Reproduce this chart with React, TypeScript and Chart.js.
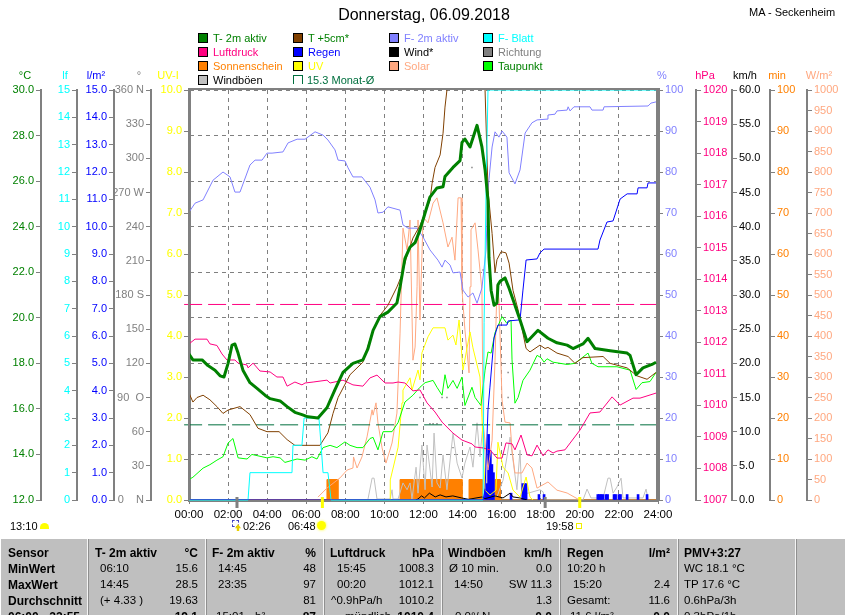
import React, { useEffect, useRef } from "react";
import { Chart, registerables } from "chart.js";

Chart.register(...registerables);

type P = [number, number];

const GREEN = "#008000", BROWN = "#804000", VIOLET = "#8080ff", CYAN = "#00ffff", PINK = "#ff0080";
const BLUE = "#0000ff", GRAY = "#808080", ORANGE = "#ff8000", YELLOW = "#ffff00", SALMON = "#ffa880";
const LIME = "#00ff00", SILVER = "#c0c0c0", MONTH = "#006f3e";
const FONT = '"Liberation Sans", Arial, sans-serif';

const degLabels: Record<number, string> = { 360: "360 N", 270: "270 W", 180: "180 S", 90: "90  O", 0: "0    N" };

const t2m: P[] = [[0,18.4],[.2,18.15],[.67,18.15],[.97,17.9],[1.33,17.7],[1.59,17.45],[1.79,17.4],[2,18],[2.2,18.8],[2.35,18.85],[2.51,18.45],[2.76,17.7],[3.12,17.15],[3.48,16.9],[3.89,16.6],[4.15,16.45],[4.66,16.35],[5.02,16.1],[5.42,15.85],[5.78,15.75],[6.09,15.65],[6.6,15.6],[7.06,16.05],[7.47,16.85],[7.88,17.6],[8.39,18],[8.9,18.15],[9.16,18.65],[9.42,19.45],[9.77,20.05],[10.18,20.25],[10.64,20.65],[10.8,21.35],[11.05,22.6],[11.31,23.1],[11.57,23.3],[11.82,23.85],[12.08,24.6],[12.33,25.3],[12.69,25.7],[13,25.75],[13.1,26.2],[13.51,26.6],[13.87,26.9],[13.97,27.7],[14.12,27.85],[14.38,27.5],[14.74,28.45],[14.99,27.5],[15.15,26.5],[15.3,25.15],[15.35,22.65],[15.46,21.2],[15.61,20.55],[15.76,20.65],[15.81,21.45],[15.92,21.6],[16.17,21.75],[16.38,21.3],[16.94,19.9],[17.3,18.95],[17.86,19.45],[18.37,19.1],[18.83,18.9],[19.35,18.8],[19.65,18.65],[20.16,18.85],[20.42,19.1],[20.78,18.65],[21.55,18.55],[22.42,18.45],[22.57,18.35],[22.88,17.5],[23.23,17.8],[23.69,17.95],[23.9,18.05]];

const t5cm: P[] = [[0,16.7],[.2,16.3],[.41,16.5],[.72,16.6],[1.07,16.4],[1.43,16.1],[1.74,15.8],[2,15.95],[2.61,16.1],[3.12,15.75],[3.53,15.15],[3.99,15],[4.61,15],[5.02,14.65],[5.42,14.4],[6.7,14.4],[7.11,14.95],[7.37,15.8],[7.63,16.5],[8.24,17.5],[8.9,18.05],[9.37,19.35],[9.77,20.1],[10.18,20.55],[10.64,21.35],[10.9,21.9],[11.16,22.75],[11.46,23.5],[11.82,24.05],[12.33,25.15],[12.44,25.9],[12.59,26.6],[12.85,27.15],[13,28.1],[13.1,29.25],[13.2,30],[13.3,30.9],[13.9,33],[14.8,33],[15.15,30],[15.2,28.55],[15.3,25.6],[15.51,23.7],[15.66,22],[15.76,22.55],[15.97,22.9],[16.22,22.85],[16.38,22.4],[16.58,21.2],[16.84,20.35],[17.25,18.65],[17.45,18.5],[17.96,18.8],[18.22,18.65],[18.37,18.7],[18.83,18.45],[19.4,18.3],[19.75,18],[20.16,18.25],[21.19,18.3],[21.55,18],[22.42,17.8],[22.93,17.45],[23.44,17.3],[23.9,17.6]];

const humidity: P[] = [[0,70.2],[.31,72.4],[.72,73.2],[1.23,78],[1.74,80],[2.1,78.8],[2.35,75.1],[2.61,75.1],[3.12,81.7],[3.38,82.9],[3.74,82.9],[3.99,84.6],[4.25,84.6],[4.81,84.9],[5.07,87.1],[5.53,88],[5.94,88],[6.45,89.8],[6.86,89],[7.11,87.8],[7.47,85.4],[7.63,82.9],[7.98,82.7],[8.14,81],[8.39,78.8],[8.85,78.8],[9.26,76.3],[9.52,73.2],[9.67,70],[9.93,70.2],[10.18,71.5],[10.8,70.7],[10.95,67.1],[11.21,66.3],[11.67,66.3],[11.98,64.1],[12.33,61],[12.74,58.5],[12.95,56.8],[13.1,58.5],[13.36,57.3],[13.51,55.4],[13.87,55.6],[14.02,51.2],[14.28,49.5],[14.53,50.5],[14.74,48],[14.99,51.7],[15.2,61],[15.3,75.6],[15.51,86.1],[15.66,89.8],[15.86,88.5],[16.02,90],[16.27,88.5],[16.38,79.8],[16.68,77.1],[16.94,80.5],[17.2,89.5],[17.55,92],[17.81,92.7],[18.32,92.9],[18.37,93.9],[18.73,94.1],[18.83,94.9],[19.35,95.1],[19.4,95.9],[19.5,94.9],[19.7,95.9],[20.52,95.9],[20.62,95.1],[21.19,95.1],[21.24,95.9],[23.49,96.1],[23.64,96.8],[23.9,97.1]];

const pressure: P[] = [[0,1011.95],[.31,1012.1],[.92,1012.1],[1.07,1011.95],[1.43,1011.9],[1.69,1011.63],[1.94,1011.44],[2.35,1011.44],[2.51,1011.34],[2.97,1011.28],[3.02,1011.19],[3.28,1011.34],[3.63,1011.09],[4.15,1011.06],[4.5,1010.9],[4.81,1010.9],[5.02,1010.61],[5.42,1010.74],[5.78,1010.65],[5.94,1010.71],[6.35,1010.74],[7.06,1010.8],[7.22,1010.71],[7.88,1010.8],[8.39,1010.65],[8.9,1010.61],[9.26,1010.87],[9.62,1010.96],[10.03,1010.71],[10.44,1010.71],[10.7,1010.74],[11.05,1010.71],[11.46,1010.46],[11.82,1010.49],[12.18,1010.08],[12.59,1009.79],[12.95,1009.47],[13.51,1009.12],[13.97,1008.9],[14.48,1008.78],[14.64,1008.68],[15.05,1008.65],[15.4,1008.59],[15.76,1008.33],[16.02,1008.33],[16.22,1008.81],[16.53,1008.78],[16.68,1008.59],[16.99,1009.06],[17.3,1008.43],[17.55,1008.4],[17.81,1008.74],[18.12,1008.4],[18.37,1008.59],[18.63,1008.49],[18.83,1008.55],[19.24,1008.59],[20.01,1009.22],[20.52,1009.76],[21.03,1009.79],[21.65,1010.27],[22.06,1010.01],[22.72,1010.23],[23.08,1010.23],[23.9,1010.39]];

const rainSum: P[] = [[0,0],[15.05,0],[15.15,.37],[15.3,3.3],[15.4,4.13],[15.61,5.93],[15.81,6.4],[16.27,6.4],[16.33,6.55],[16.94,6.59],[17.09,7.68],[17.25,8.78],[17.81,8.82],[17.96,9.04],[18.17,9.18],[20.93,9.18],[21.03,9.51],[21.39,10.17],[21.7,10.21],[22.06,11.01],[22.42,11.2],[22.93,11.2],[22.98,11.42],[23.44,11.42],[23.49,11.6],[23.9,11.6]];

const rainBars: P[] = [[15.17,.4],[15.25,.6],[15.33,2.4],[15.42,1.8],[15.5,1.3],[15.58,1],[16.48,.25],[17.08,.6],[17.17,.6],[17.25,.6],[17.91,.2],[18.17,.2],[20.92,.2],[21,.2],[21.08,.2],[21.17,.2],[21.33,.2],[21.42,.2],[21.75,.2],[21.83,.2],[22,.2],[22.08,.2],[22.42,.2],[22.98,.2],[23.44,.2]];

const sunshine: P[] = [[0,0],[7.06,0],[7.06,5],[7.62,5],[7.62,0],[10.8,0],[10.8,5],[11.46,5],[11.46,0],[11.52,0],[11.52,5],[13.97,5],[13.97,0],[14.33,0],[14.33,5],[15,5],[15,0],[15.66,0],[15.66,5],[15.92,5],[15.92,0],[23.9,0]];

const solar: P[] = [[6.6,7],[7.06,29],[7.73,54],[8.09,73],[8.39,78],[8.42,105],[8.6,78],[8.85,105],[9.11,154],[9.37,220],[9.42,207],[9.57,237],[9.67,188],[9.88,127],[10.08,90],[10.39,139],[10.64,212],[10.8,407],[10.95,663],[11.16,610],[11.31,683],[11.46,341],[11.57,373],[11.67,520],[11.72,683],[11.82,439],[11.98,690],[12.23,676],[12.49,724],[12.69,737],[13,676],[13.25,617],[13.46,641],[13.61,585],[13.77,737],[13.92,737],[13.97,512],[14.12,415],[14.33,310],[14.38,520],[14.43,659],[14.64,676],[14.79,610],[14.99,512],[15.05,188],[15.3,73],[15.51,146],[15.66,341],[15.76,524],[15.86,488],[16.02,244],[16.17,190],[16.43,188],[16.53,122],[16.68,66],[17.04,66],[17.3,90],[17.55,78],[17.81,29],[18.37,44],[18.83,24],[19.35,17],[19.91,2]];

const uv: P[] = [[10.29,0],[10.3,.49],[10.7,1.29],[10.9,2.37],[10.95,2.68],[11.31,2.98],[11.41,2.68],[11.72,3.17],[11.82,2.93],[11.92,3.59],[12.23,3.98],[12.49,4.2],[13.1,4.2],[13.25,3.9],[13.51,4.02],[13.66,3.78],[13.82,4.39],[14.02,3.17],[14.38,4.1],[14.53,3.71],[14.89,3],[14.99,2.02],[15.15,.24],[15.4,.12],[15.71,.24],[15.81,1.41],[16.07,.8],[16.33,.66],[16.58,.24],[16.94,.07],[17.25,.56],[17.45,.07],[17.6,0]];

const wind: P[] = [[11.6,0],[11.72,.15],[11.9,.6],[12.05,.3],[12.3,1],[12.6,.45],[12.85,.75],[13.15,.45],[13.5,.6],[13.95,.3],[14.3,.1],[15,.45],[15.15,.2],[15.66,.6],[16.07,.3],[16.43,1],[16.58,.45],[16.94,.3],[17.3,0]];

const gusts: P[] = [[9.16,.15],[9.37,3.2],[9.47,3.2],[9.62,.15],[10.29,.15],[10.39,1.5],[10.44,.15],[10.7,.15],[10.95,2.5],[11.16,1.5],[11.31,2.5],[11.41,.15],[11.62,4.8],[11.72,1],[11.92,8.05],[12.08,1.5],[12.18,8.05],[12.44,1.9],[12.54,9.8],[12.69,2.5],[12.85,1.75],[13,6.6],[13.2,1.5],[13.51,9.8],[13.72,5.4],[13.97,3.2],[14.12,5.4],[14.38,7.75],[14.53,4.8],[14.74,11.3],[14.89,6.3],[15.05,11.3],[15.25,1.5],[15.76,.45],[16.07,2.9],[16.27,6.3],[16.43,9.2],[16.58,5.85],[16.78,1.5],[16.94,7.3],[17.02,1],[17.35,1],[17.96,1.5],[18.12,1.2],[18.22,0],[20.16,0],[20.37,1.6],[20.57,.3],[21.19,.3],[21.44,3.2],[21.55,3.2],[21.7,1],[21.9,1.9],[22.11,3.2],[22.21,.3],[23.23,.3],[23.39,1.6],[23.49,.15]];

const dewPoint: P[] = [[0,12.9],[.2,13],[.72,13.4],[1.07,13.55],[1.43,13.75],[1.74,13.9],[2,14.5],[2.25,14.7],[2.51,13.85],[2.97,13.8],[3.22,14],[3.99,13.85],[4.3,13.9],[4.66,13.85],[4.91,13.65],[5.53,13.8],[5.94,13.75],[6.29,13.9],[6.55,13.8],[6.86,14.3],[7.22,14.4],[7.57,14.3],[7.98,14.55],[8.24,14.4],[8.6,14.3],[8.9,14.3],[9.26,14.7],[9.42,14.75],[9.67,14.2],[9.93,15],[10.39,15],[10.7,15.4],[11.05,16.3],[11.46,16.6],[11.82,16.95],[12.08,17.15],[12.49,17.25],[12.69,16.95],[12.95,16.6],[13.1,17.5],[13.25,16.9],[13.51,17.25],[13.72,16.9],[13.97,17.4],[14.12,16.15],[14.48,16.95],[14.64,16.5],[14.94,16.15],[15.15,17.7],[15.3,18.5],[15.46,18.45],[15.66,19.35],[16.02,20.05],[16.27,19.75],[16.48,19.9],[16.53,18.15],[16.68,16.25],[16.84,16.5],[17.09,17.25],[17.45,17.7],[17.81,18.35],[18.01,18.25],[18.17,18.05],[18.32,18.2],[18.63,18.05],[19.35,17.95],[19.75,18],[20.42,18.45],[20.62,18],[20.93,17.85],[21.9,17.85],[22.57,17.7],[22.88,16.85],[23.18,17.15],[23.59,17.2],[23.9,17.6]];

const leafWet: P[] = [[0,0],[3.02,0],[3.12,1],[5.27,1],[5.32,2],[5.78,2],[5.89,3],[6.65,3],[6.76,2],[6.86,1],[7.11,1],[7.27,0],[15.05,0],[15.1,6.5],[15.2,11.2],[15.3,15],[23.9,15]];

const direction: P[] = [[14.48,292],[15.05,202],[16.33,112],[16.33,90],[12.95,90],[13.2,90],[12.33,67],[12.49,67],[12.69,67],[13.51,46],[15.05,46],[11.82,90]];

const monthMean: P[] = [[-0.25,15.3],[23.9,15.3]];
const pressureMean: P[] = [[-0.25,1013.2],[23.9,1013.2]];

const sunMarks = [6.8, 19.97];
const moonMarks = [2.43, 18.2];

const legend: { name: string; swatch: string; text: string; x: number; row: number }[] = [
  { name: "T- 2m aktiv", swatch: GREEN, text: GREEN, x: 198, row: 0 },
  { name: "T +5cm*", swatch: BROWN, text: GREEN, x: 293, row: 0 },
  { name: "F- 2m aktiv", swatch: VIOLET, text: VIOLET, x: 389, row: 0 },
  { name: "F- Blatt", swatch: CYAN, text: CYAN, x: 483, row: 0 },
  { name: "Luftdruck", swatch: PINK, text: PINK, x: 198, row: 1 },
  { name: "Regen", swatch: BLUE, text: BLUE, x: 293, row: 1 },
  { name: "Wind*", swatch: "#000000", text: "#000000", x: 389, row: 1 },
  { name: "Richtung", swatch: GRAY, text: GRAY, x: 483, row: 1 },
  { name: "Sonnenschein", swatch: ORANGE, text: ORANGE, x: 198, row: 2 },
  { name: "UV", swatch: YELLOW, text: YELLOW, x: 293, row: 2 },
  { name: "Solar", swatch: SALMON, text: SALMON, x: 389, row: 2 },
  { name: "Taupunkt", swatch: LIME, text: GREEN, x: 483, row: 2 },
  { name: "Windböen", swatch: SILVER, text: "#000000", x: 198, row: 3 },
];

const units: { label: string; cx: number; color: string }[] = [
  { label: "°C", cx: 25, color: GREEN },
  { label: "lf", cx: 65, color: CYAN },
  { label: "l/m²", cx: 96, color: BLUE },
  { label: "°", cx: 139, color: GRAY },
  { label: "UV-I", cx: 168, color: YELLOW },
  { label: "%", cx: 662, color: VIOLET },
  { label: "hPa", cx: 705, color: PINK },
  { label: "km/h", cx: 745, color: "#000000" },
  { label: "min", cx: 777, color: ORANGE },
  { label: "W/m²", cx: 819, color: SALMON },
];

const tableSeparators = [87, 205, 323, 441, 559, 677, 795];
const tableRowsY = [553, 569, 585, 601, 617];
// [x, row, text, bold]
const tableLeft: [number, number, string, boolean][] = [
  [8, 0, "Sensor", true], [8, 1, "MinWert", true], [8, 2, "MaxWert", true], [8, 3, "Durchschnitt", true], [8, 4, "06:00 - 22:55", true],
  [95, 0, "T- 2m aktiv", true], [100, 1, "06:10", false], [100, 2, "14:45", false], [100, 3, "(+ 4.33 )", false],
  [212, 0, "F- 2m aktiv", true], [218, 1, "14:45", false], [218, 2, "23:35", false], [216, 4, "15:01 - h²", false],
  [330, 0, "Luftdruck", true], [337, 1, "15:45", false], [337, 2, "00:20", false], [331, 3, "^0.9hPa/h", false], [345, 4, "mündlich", false],
  [448, 0, "Windböen", true], [449, 1, "Ø 10 min.", false], [454, 2, "14:50", false], [455, 4, "0.0°/ N", false],
  [567, 0, "Regen", true], [567, 1, "10:20 h", false], [573, 2, "15:20", false], [567, 3, "Gesamt:", false], [570, 4, "11.6 l/m²", false],
  [684, 0, "PMV+3:27", true], [684, 1, "WC 18.1 °C", false], [684, 2, "TP 17.6 °C", false], [684, 3, "0.6hPa/3h", false], [684, 4, "0.3hPa/1h", false],
];
// [right edge, row, text, bold]
const tableRight: [number, number, string, boolean][] = [
  [198, 0, "°C", true], [198, 1, "15.6", false], [198, 2, "28.5", false], [198, 3, "19.63", false], [198, 4, "19.1", true],
  [316, 0, "%", true], [316, 1, "48", false], [316, 2, "97", false], [316, 3, "81", false], [316, 4, "87", true],
  [434, 0, "hPa", true], [434, 1, "1008.3", false], [434, 2, "1012.1", false], [434, 3, "1010.2", false], [434, 4, "1010.4", true],
  [552, 0, "km/h", true], [552, 1, "0.0", false], [552, 2, "SW 11.3", false], [552, 3, "1.3", false], [552, 4, "0.0", true],
  [670, 0, "l/m²", true], [670, 2, "2.4", false], [670, 3, "11.6", false], [670, 4, "0.0", true],
];

const xy = (a: P[]) => a.map(([x, y]) => ({ x, y }));

function line(label: string, data: P[], color: string, yAxisID: string, extra: object = {}) {
  return { type: "line", label, data: xy(data), borderColor: color, backgroundColor: color, borderWidth: 1, pointRadius: 0, tension: 0, borderJoinStyle: "round", yAxisID, xAxisID: "x", ...extra };
}

function yAxis(position: "left" | "right", weight: number, width: number, min: number, max: number, stepSize: number, color: string, fmt: (v: number) => string, extra: any = {}) {
  return {
    type: "linear", position, weight, min, max,
    afterFit: (s: any) => { s.width = width; },
    border: { color: GRAY, width: 2, ...(extra.border || {}) },
    grid: { drawOnChartArea: false, tickColor: GRAY, tickLength: 5, tickWidth: 1, offset: false, ...(extra.grid || {}) },
    ticks: { stepSize, color, autoSkip: false, maxRotation: 0, padding: 2, font: { family: FONT, size: 11 }, callback: (v: any) => fmt(Number(v)), ...(extra.ticks || {}) },
  };
}

const framePlugin = {
  id: "frame",
  afterDatasetsDraw(chart: any) {
    const { ctx, chartArea: a, scales } = chart;
    ctx.save();
    ctx.fillStyle = GRAY;
    ctx.fillRect(a.left - 1, a.top - 2, a.right - a.left + 3, 2);
    ctx.fillRect(a.left - 1, a.top, 2, a.bottom - a.top);
    moonMarks.forEach((h) => ctx.fillRect(scales.x.getPixelForValue(h) - 1, a.bottom - 3, 3, 11));
    ctx.fillStyle = "#ffff00";
    sunMarks.forEach((h) => ctx.fillRect(scales.x.getPixelForValue(h) - 1, a.bottom - 3, 3, 11));
    ctx.restore();
  },
};

function Txt({ x, y, children, color = "#000", size = 11, bold = false, right = false, center = false }: any) {
  return (
    <span style={{ position: "absolute", top: y, left: right || center ? undefined : x, ...(right ? { right: 845 - x } : {}), ...(center ? { left: x } : {}), transform: center ? "translate(-50%,-50%)" : "translateY(-50%)", color, fontSize: size, fontWeight: bold ? 700 : 400, fontFamily: FONT, whiteSpace: "pre", lineHeight: 1 }}>
      {children}
    </span>
  );
}

export default function App() {
  const ref = useRef<HTMLCanvasElement>(null);
  useEffect(() => {
    const datasets: any[] = [
      line("T- 2m aktiv", t2m, GREEN, "yTemp", { borderWidth: 3 }),
      line("Regen", rainSum, BLUE, "yRain"),
      line("F- Blatt", leafWet, CYAN, "yLeaf", { clip: 2 }),
      line("T +5cm*", t5cm, BROWN, "yTemp"),
      line("Luftdruck", pressure, PINK, "yHpa"),
      line("F- 2m aktiv", humidity, VIOLET, "yPct"),
      line("15.3 Monat-Ø", monthMean, MONTH, "yTemp", { borderDash: [18, 6], clip: false }),
      line("Luftdruck-Mittel", pressureMean, PINK, "yHpa", { borderDash: [18, 6], clip: false }),
      line("Taupunkt", dewPoint, LIME, "yTemp"),
      line("UV", uv, YELLOW, "yUv"),
      line("Solar", solar, SALMON, "yW"),
      line("Wind*", wind, "#000000", "yKmh"),
      { type: "scatter", label: "Richtung", data: xy(direction), showLine: false, pointRadius: 1, pointStyle: "rect", borderWidth: 0, backgroundColor: GRAY, xAxisID: "x", yAxisID: "yDeg" },
      { type: "bar", label: "Regen 5 min", data: xy(rainBars), backgroundColor: BLUE, barThickness: 2, grouped: false, xAxisID: "x", yAxisID: "yLm" },
      line("Windböen", gusts, SILVER, "yKmh"),
      line("Sonnenschein", sunshine, ORANGE, "yMin", { fill: "origin" }),
    ];

    const chart = new Chart(ref.current as HTMLCanvasElement, {
      type: "line",
      data: { datasets },
      plugins: [framePlugin],
      options: {
        animation: false,
        responsive: false,
        devicePixelRatio: 1,
        layout: { padding: { left: 0, right: 0, top: 90, bottom: 0 } },
        plugins: { legend: { display: false }, title: { display: false }, tooltip: { enabled: false } },
        scales: {
          x: {
            type: "linear", min: 0, max: 24, offset: false,
            afterFit: (s: any) => { s.height = 115; },
            border: { color: GRAY, width: 3, dash: [4, 4] },
            grid: { color: GRAY, tickBorderDash: [], tickColor: GRAY, tickLength: 4, offset: false, display: true },
            ticks: { stepSize: 2, color: "#000", autoSkip: false, maxRotation: 0, padding: 4, font: { family: FONT, size: 11.5 }, callback: (v: any) => String(v).padStart(2, "0") + ":00" },
          },
          yTemp: yAxis("left", 5, 41, 12, 30, 2, GREEN, (v) => v.toFixed(1), { border: { dash: [4, 4] }, grid: { drawOnChartArea: true, color: GRAY, tickBorderDash: [] } }),
          yLeaf: yAxis("left", 4, 36, 0, 15, 1, CYAN, (v) => String(v)),
          yLm: yAxis("left", 3, 37, 0, 15, 1, BLUE, (v) => v.toFixed(1)),
          yRain: { type: "linear", display: false, min: 0, max: 15 },
          yDeg: yAxis("left", 2, 37, 0, 360, 30, GRAY, (v) => degLabels[v] ?? String(v)),
          yUv: yAxis("left", 1, 38, 0, 10, 1, YELLOW, (v) => v.toFixed(1), { border: { width: 3 } }),
          yPct: yAxis("right", 1, 38, 0, 100, 10, VIOLET, (v) => String(v), { border: { width: 4 } }),
          yHpa: yAxis("right", 2, 36, 1007, 1020, 1, PINK, (v) => String(v)),
          yKmh: yAxis("right", 3, 38, 0, 60, 5, "#000000", (v) => v.toFixed(1)),
          yMin: yAxis("right", 4, 37, 0, 100, 10, ORANGE, (v) => String(v)),
          yW: yAxis("right", 5, 38, 0, 1000, 50, SALMON, (v) => String(v)),
        } as any,
      } as any,
    });
    return () => chart.destroy();
  }, []);

  return (
    <div style={{ position: "fixed", left: 0, top: 0, width: 845, height: 615, overflow: "hidden", background: "#fff" }}>
      <canvas ref={ref} width={845} height={615} style={{ position: "absolute", left: 0, top: 0, width: 845, height: 615 }} />
      <Txt x={424} y={15} size={16} center>Donnerstag, 06.09.2018</Txt>
      <Txt x={749} y={12} size={11}>MA - Seckenheim</Txt>

      {legend.map((l) => (
        <React.Fragment key={l.name}>
          <span style={{ position: "absolute", left: l.x, top: 33 + l.row * 14, width: 8, height: 8, background: l.swatch, border: "1px solid #000" }} />
          <Txt x={l.x + 15} y={38 + l.row * 14} color={l.text}>{l.name}</Txt>
        </React.Fragment>
      ))}
      <span style={{ position: "absolute", left: 293, top: 75, width: 8, height: 8, borderLeft: `1px solid ${MONTH}`, borderRight: `1px solid ${MONTH}`, borderTop: `1px solid ${MONTH}` }} />
      <Txt x={307} y={80} color={MONTH}>15.3 Monat-Ø</Txt>

      {units.map((u) => (
        <Txt key={u.label} x={u.cx} y={75} color={u.color} center>{u.label}</Txt>
      ))}

      <Txt x={10} y={526}>13:10</Txt>
      <span style={{ position: "absolute", left: 40, top: 523, width: 9, height: 6, background: YELLOW, borderRadius: "5px 5px 0 0" }} />
      <span style={{ position: "absolute", left: 232, top: 520, width: 5, height: 5, border: "1px dashed #4040c0" }} />
      <span style={{ position: "absolute", left: 235, top: 524, width: 6, height: 7, background: "#e8d000", clipPath: "polygon(50% 0,100% 60%,70% 60%,70% 100%,30% 100%,30% 60%,0 60%)" }} />
      <Txt x={243} y={526}>02:26</Txt>
      <Txt x={288} y={526}>06:48</Txt>
      <span style={{ position: "absolute", left: 317, top: 521, width: 9, height: 9, background: YELLOW, borderRadius: "50%", boxShadow: "0 0 2px 1px #ffffa0" }} />
      <Txt x={546} y={526}>19:58</Txt>
      <span style={{ position: "absolute", left: 576, top: 523, width: 4, height: 4, border: "1px solid #f0f000" }} />

      <div style={{ position: "absolute", left: 1, top: 539, width: 844, height: 76, background: "#bfbfbf" }} />
      {tableSeparators.map((x) => (
        <span key={x} style={{ position: "absolute", left: x, top: 539, width: 1, height: 76, background: "#f4f4f4", borderRight: "1px solid #8f8f8f" }} />
      ))}
      {tableLeft.map(([x, r, t, b]) => (
        <Txt key={`${x}-${r}`} x={x} y={tableRowsY[r]} bold={b} size={b ? 12 : 11.5}>{t}</Txt>
      ))}
      {tableRight.map(([x, r, t, b]) => (
        <Txt key={`${x}-${r}`} x={x} y={tableRowsY[r]} bold={b} size={b ? 12 : 11.5} right>{t}</Txt>
      ))}
    </div>
  );
}
